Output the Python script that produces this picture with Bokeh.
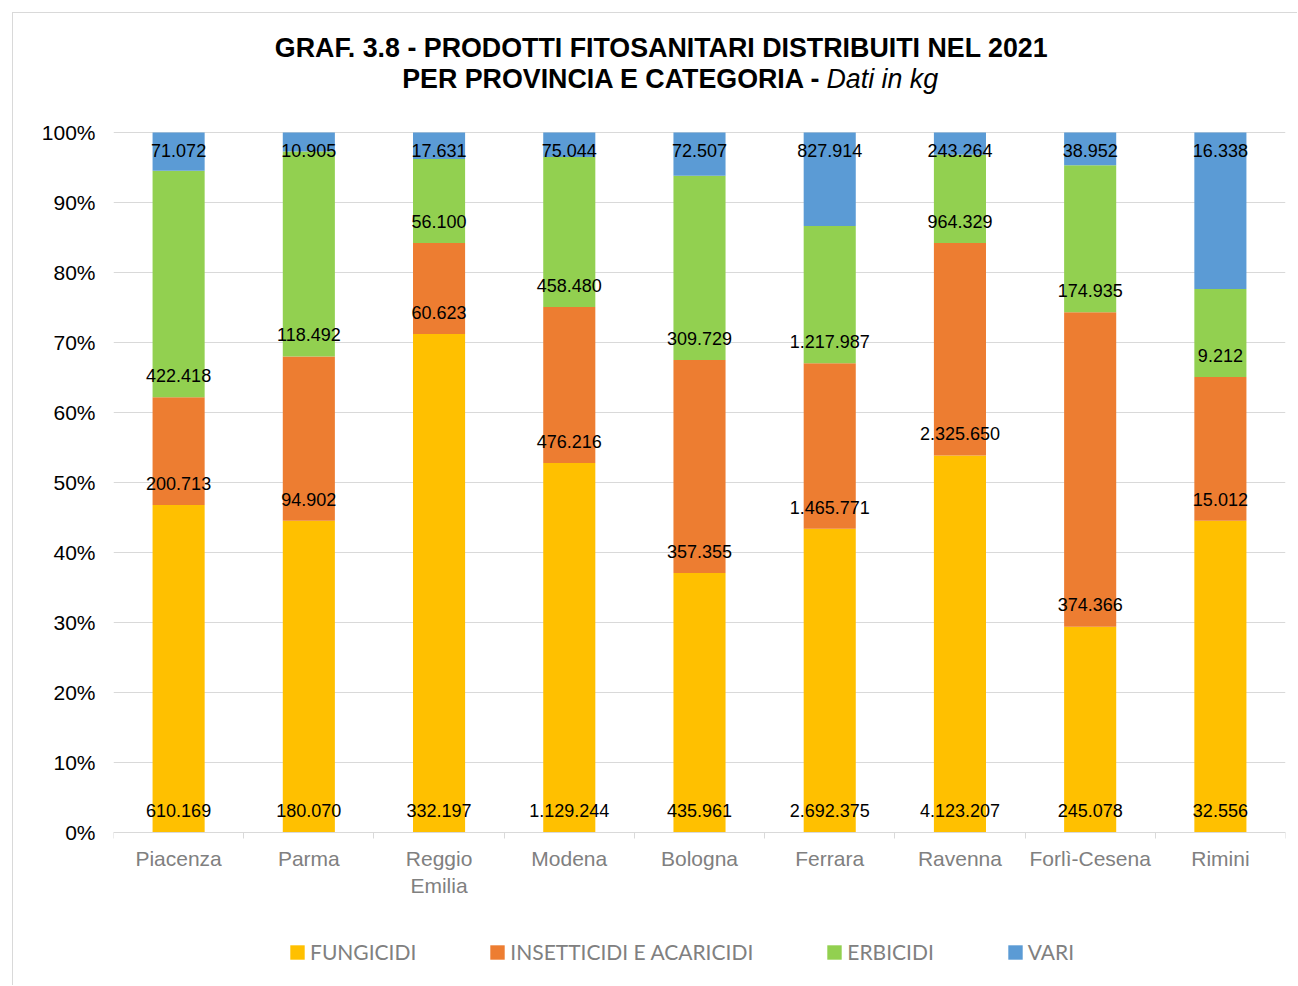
import numpy as np
from bokeh.plotting import figure
from bokeh.models import (ColumnDataSource, FixedTicker, NumeralTickFormatter, Label,
                          Legend, LegendItem, Range1d)
from bokeh.core.properties import value
from bokeh.embed import file_html
from bokeh.resources import INLINE

# ---- data ----
provinces = ["Piacenza", "Parma", "Reggio\nEmilia", "Modena", "Bologna",
             "Ferrara", "Ravenna", "Forlì-Cesena", "Rimini"]
fungicidi = [610169, 180070, 332197, 1129244, 435961, 2692375, 4123207, 245078, 32556]
insetticidi = [200713, 94902, 60623, 476216, 357355, 1465771, 2325650, 374366, 15012]
erbicidi = [422418, 118492, 56100, 458480, 309729, 1217987, 964329, 174935, 9212]
vari = [71072, 10905, 17631, 75044, 72507, 827914, 243264, 38952, 16338]
series_names = ["FUNGICIDI", "INSETTICIDI E ACARICIDI", "ERBICIDI", "VARI"]
series_colors = ["#FFC000", "#ED7D31", "#92D050", "#5B9BD5"]
y_ticks = [0.0, 0.1, 0.2, 0.3, 0.4, 0.5, 0.6, 0.7, 0.8, 0.9, 1.0]

series = [fungicidi, insetticidi, erbicidi, vari]
vals = np.array(series, dtype=float)
totals = vals.sum(axis=0)
fracs = vals / totals
x = list(range(len(provinces)))

keys = ["s%d" % i for i in range(len(series))]
src = ColumnDataSource(dict(x=x, **{k: fracs[i] for i, k in enumerate(keys)}))

FONT = "Liberation Sans"

# frame spans the whole height; 0%..100% occupies 700 px of it
p = figure(width=1285, height=973, output_backend="svg", toolbar_location=None,
           x_range=Range1d(-0.5, len(provinces) - 0.5),
           y_range=Range1d(-154 / 700, 819 / 700),
           min_border_left=100, min_border_right=13, min_border_top=0, min_border_bottom=0)
p.styles = {"margin-left": "12px", "margin-top": "12px",
            "border-left": "1px solid #d9d9d9", "border-top": "1px solid #d9d9d9"}
p.outline_line_color = None
p.background_fill_color = "white"
p.border_fill_color = "white"

rends = p.vbar_stack(keys, x="x", width=0.4, color=series_colors, line_color=None, source=src)

# data labels
lx, ly, lt = [], [], []
cum = np.zeros(len(provinces))
for i, s in enumerate(series):
    for j in range(len(provinces)):
        lx.append(x[j])
        if i == len(series) - 1:
            ly.append(cum[j] + fracs[i][j] - 0.026)
        else:
            ly.append(cum[j] + 0.031)
        lt.append(f"{int(s[j]):,}".replace(",", "."))
    cum = cum + fracs[i]
lsrc = ColumnDataSource(dict(x=lx, y=ly, text=lt))
p.text(x="x", y="y", text="text", source=lsrc, text_align="center", text_baseline="middle",
       text_font=value(FONT), text_font_size="18px", text_color="black")

# axes
p.xaxis.fixed_location = 0
p.xaxis.ticker = FixedTicker(ticks=x, minor_ticks=[i - 0.5 for i in range(len(provinces) + 1)])
p.xaxis.major_label_overrides = {i: provinces[i] for i in x}
p.xaxis.axis_line_color = "#d9d9d9"
p.xaxis.major_tick_line_color = None
p.xaxis.major_tick_out = 0
p.xaxis.major_tick_in = 0
p.xaxis.minor_tick_line_color = "#d9d9d9"
p.xaxis.minor_tick_out = 6
p.xaxis.minor_tick_in = 0
p.xaxis.major_label_text_font = FONT
p.xaxis.major_label_text_font_size = "21px"
p.xaxis.major_label_text_color = "#808080"
p.xaxis.major_label_standoff = 8

p.yaxis.ticker = FixedTicker(ticks=y_ticks)
p.yaxis.formatter = NumeralTickFormatter(format="0%")
p.yaxis.axis_line_color = None
p.yaxis.major_tick_line_color = None
p.yaxis.minor_tick_line_color = None
p.yaxis.major_tick_out = 0
p.yaxis.major_label_text_font = FONT
p.yaxis.major_label_text_font_size = "21px"
p.yaxis.major_label_text_color = "black"
p.yaxis.major_label_standoff = 18

p.xgrid.grid_line_color = None
p.ygrid.ticker = FixedTicker(ticks=y_ticks)
p.ygrid.grid_line_color = "#d9d9d9"

# title
p.add_layout(Label(x=3.708, y=1.121, text="GRAF. 3.8 - PRODOTTI FITOSANITARI DISTRIBUITI NEL 2021",
                   text_align="center", text_baseline="middle", text_font=FONT,
                   text_font_size="26.8px", text_font_style="bold", text_color="black"))
p.add_layout(Label(x=4.937, y=1.077, text="PER PROVINCIA E CATEGORIA -",
                   text_align="right", text_baseline="middle", text_font=FONT,
                   text_font_size="26.8px", text_font_style="bold", text_color="black"))
p.add_layout(Label(x=4.975, y=1.077, text="Dati in kg",
                   text_align="left", text_baseline="middle", text_font=FONT,
                   text_font_size="26.8px", text_font_style="italic", text_color="black"))

# legend
legend = Legend(items=[LegendItem(label=n, renderers=[r]) for n, r in zip(series_names, rends)],
                orientation="horizontal", location=(175, 22))
legend.border_line_color = None
legend.background_fill_alpha = 0
legend.padding = 0
legend.margin = 0
legend.spacing = 72
legend.label_standoff = 4
legend.glyph_width = 18
legend.glyph_height = 18
legend.label_text_font = "Lato"
legend.label_text_font_size = "21px"
legend.label_text_color = "#808080"
p.add_layout(legend, "center")

open("out.html", "w").write(file_html(p, INLINE))
